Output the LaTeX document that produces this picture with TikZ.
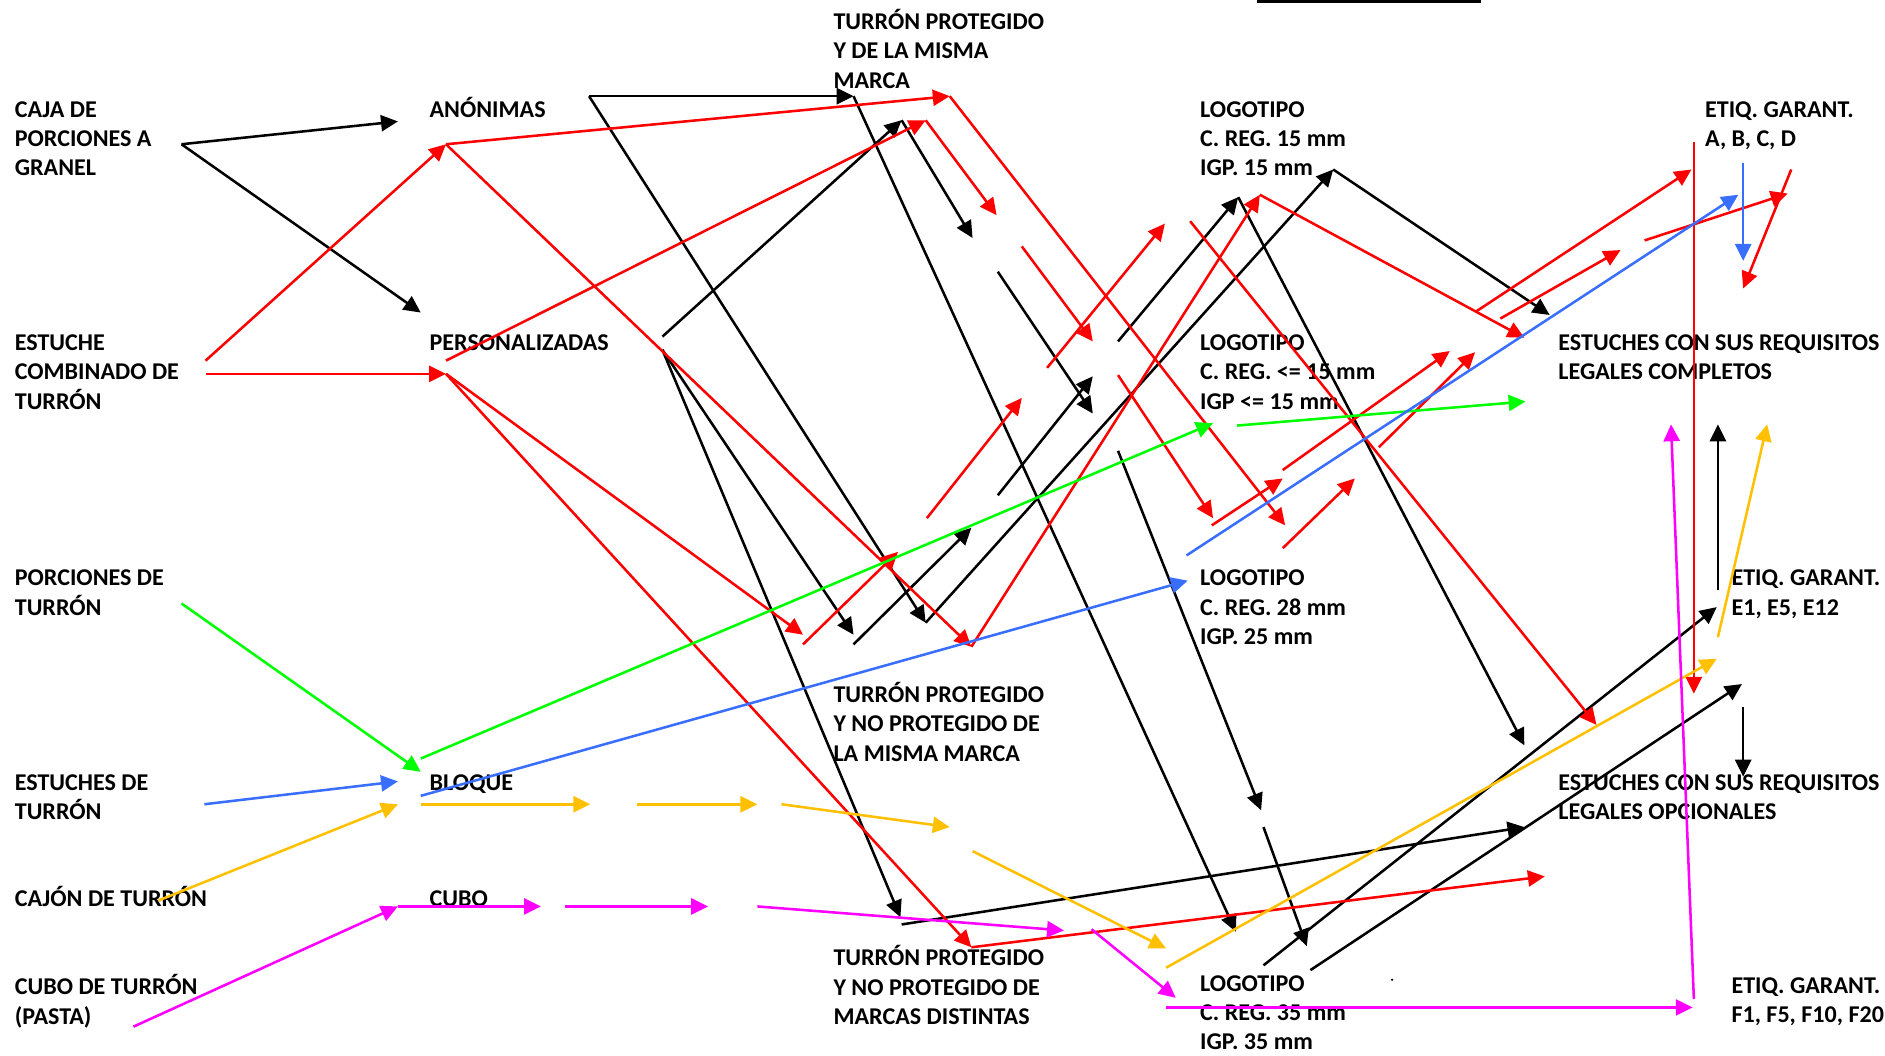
\documentclass[tikz,border=0pt]{standalone}
\usepackage{fontspec}
\setmainfont{Carlito}
\usetikzlibrary{arrows.meta}

\definecolor{rojo}{HTML}{FF0000}
\definecolor{verde}{HTML}{00FF00}
\definecolor{azul}{HTML}{3A6EFF}
\definecolor{amarillo}{HTML}{FFC000}
\definecolor{rosa}{HTML}{FF00FF}

\begin{document}
\begin{tikzpicture}[
    x=0.02cm, y=-0.02cm,
    % labels in bold sans
    lbl/.style={
        font=\fontsize{11.4pt}{13.9pt}\selectfont\bfseries,
        align=left,
        anchor=north west,
        inner sep=0pt
    },
    % every connector is a straight arrow
    flecha/.style={
        -{Triangle[length=8pt,width=7.6pt]},
        line width=1.2pt
    },
    fnegra/.style={flecha, black},
    froja/.style={flecha, rojo},
    fverde/.style={flecha, verde},
    fazul/.style={flecha, azul},
    famarilla/.style={flecha, amarillo},
    frosa/.style={flecha, rosa}
]
    \useasboundingbox (0,0) rectangle (1568,878);

    % Products
    \node[lbl] (caja) at (12,80) {\strut CAJA DE\\PORCIONES A\\GRANEL};
    \node[lbl] (estuche) at (12,274) {\strut ESTUCHE\\COMBINADO DE\\TURRÓN};
    \node[lbl] (porciones) at (12,470) {\strut PORCIONES DE\\TURRÓN};
    \node[lbl] (estuches) at (12,640) {\strut ESTUCHES DE\\TURRÓN};
    \node[lbl] (cajon) at (12,737) {\strut CAJÓN DE TURRÓN};
    \node[lbl] (cubot) at (12,810) {\strut CUBO DE TURRÓN\\(PASTA)};

    % Presentations
    \node[lbl] (anon) at (357,80) {\strut ANÓNIMAS};
    \node[lbl] (pers) at (357,274) {\strut PERSONALIZADAS};
    \node[lbl] (bloque) at (357,640) {\strut BLOQUE};
    \node[lbl] (cubo) at (357,737) {\strut CUBO};

    % Brands
    \node[lbl] (misma) at (693,7) {\strut TURRÓN PROTEGIDO\\Y DE LA MISMA\\MARCA};
    \node[lbl] (nomisma) at (693,567) {\strut TURRÓN PROTEGIDO\\Y NO PROTEGIDO DE\\LA MISMA MARCA};
    \node[lbl] (distintas) at (693,786) {\strut TURRÓN PROTEGIDO\\Y NO PROTEGIDO DE\\MARCAS DISTINTAS};

    % Logos
    \node[lbl] (logoA) at (998,80) {\strut LOGOTIPO\\C. REG. 15 mm\\IGP. 15 mm};
    \node[lbl] (logoB) at (998,274) {\strut LOGOTIPO\\C. REG. <= 15 mm\\IGP <= 15 mm};
    \node[lbl] (logoC) at (998,470) {\strut LOGOTIPO\\C. REG. 28 mm\\IGP. 25 mm};
    \node[lbl] (logoD) at (998,807) {\strut LOGOTIPO\\C. REG. 35 mm\\IGP. 35 mm};

    % Requirements and labels
    \node[lbl] (completos) at (1296,274) {\strut ESTUCHES CON SUS REQUISITOS\\LEGALES COMPLETOS};
    \node[lbl] (opcionales) at (1296,640) {\strut ESTUCHES CON SUS REQUISITOS\\LEGALES OPCIONALES};
    \node[lbl] (etiqA) at (1418,80) {\strut ETIQ. GARANT.\\A, B, C, D};
    \node[lbl] (etiqE) at (1440,470) {\strut ETIQ. GARANT.\\E1, E5, E12};
    \node[lbl] (etiqF) at (1440,809) {\strut ETIQ. GARANT.\\F1, F5, F10, F20};

    % Arrow ends
    \foreach \n/\p in {k1/{151,120}, k2/{331,101}, k3/{350,260}, k4/{490,80},
        k5/{710,80}, k6/{770,518}, k7/{1028,775}, k8/{551,280}, k9/{750,100},
        k10/{809,198}, k11/{551,291}, k12/{710,528}, k13/{749,763}, k14/{750,769},
        k15/{1268,688}, k16/{710,536}, k17/{808,439}, k18/{830,412}, k19/{909,313},
        k20/{930,284}, k21/{1030,164}, k22/{1268,620}, k23/{1109,141}, k24/{1289,262},
        k25/{830,226}, k26/{909,344}, k27/{930,375}, k28/{1049,674}, k29/{1051,688},
        k30/{1087,787}, k31/{1051,803}, k32/{1428,505}, k33/{1090,807}, k34/{1449,569},
        k35/{1429,491}, k36/{1429,353}, k37/{1450,588}, k38/{1450,646},
        t1/{1046,1}, t2/{1232,1}}
        \coordinate (\n) at (\p);
    \foreach \n/\p in {r1/{171,300}, r2/{371,120}, r3/{171,311}, r4/{371,311},
        r5/{790,80}, r6/{808,538}, r7/{668,528}, r8/{808,788}, r9/{371,300},
        r10/{770,100}, r11/{829,179}, r12/{1069,437}, r13/{850,205}, r14/{909,284},
        r15/{930,312}, r16/{1009,431}, r17/{668,536}, r18/{747,459}, r19/{771,431},
        r20/{850,331}, r21/{871,306}, r22/{969,186}, r23/{1048,162}, r24/{1268,281},
        r25/{990,184}, r26/{1328,603}, r27/{1008,437}, r28/{1067,398}, r29/{1067,391},
        r30/{1206,292}, r31/{1067,456}, r32/{1127,398}, r33/{1147,372}, r34/{1227,293},
        r35/{1228,259}, r36/{1407,141}, r37/{1248,265}, r38/{1348,208}, r39/{1368,200},
        r40/{1487,161}, r41/{1490,141}, r42/{1450,240}, r43/{1409,118}, r44/{1409,577},
        r45/{1285,729}}
        \coordinate (\n) at (\p);
    \foreach \n/\p in {g1/{151,502}, g2/{350,642}, g3/{350,631}, g4/{1009,352},
        g5/{1029,354}, g6/{1269,334},
        b1/{170,669}, b2/{331,650}, b3/{350,662}, b4/{988,483}, b5/{987,462},
        b6/{1446,162}, b7/{1450,136}, b8/{1450,217},
        y1/{132,749}, y2/{331,669}, y3/{350,669}, y4/{491,669}, y5/{530,669},
        y6/{630,669}, y7/{650,669}, y8/{790,688}, y9/{809,708}, y10/{970,789},
        y11/{970,805}, y12/{1428,548}, y13/{1429,530}, y14/{1470,353},
        m1/{111,854}, m2/{331,754}, m3/{450,754}, m4/{470,754}, m5/{589,754},
        m6/{630,754}, m7/{885,774}, m8/{908,773}, m9/{978,830}, m10/{970,838},
        m11/{1408,838}, m12/{1409,831}, m13/{1390,353}}
        \coordinate (\n) at (\p);

    % Black paths
    \foreach \a/\b in {k1/k2, k1/k3, k4/k5, k4/k6, k5/k7, k8/k9, k9/k10, k11/k12,
        k11/k13, k14/k15, k16/k17, k18/k19, k20/k21, k21/k22, k6/k23, k23/k24,
        k25/k26, k27/k28, k29/k30, k31/k32, k33/k34, k35/k36, k37/k38}
        \draw[fnegra] (\a) -- (\b);

    % Red paths
    \foreach \a/\b in {r1/r2, r3/r4, r2/r5, r2/r6, r4/r7, r4/r8, r9/r10, r10/r11,
        r5/r12, r13/r14, r15/r16, r17/r18, r19/r20, r21/r22, r6/r23, r23/r24,
        r25/r26, r27/r28, r29/r30, r31/r32, r33/r34, r35/r36, r37/r38, r39/r40,
        r41/r42, r43/r44, r8/r45}
        \draw[froja] (\a) -- (\b);

    % Green, blue, yellow and pink paths
    \foreach \a/\b in {g1/g2, g3/g4, g5/g6}
        \draw[fverde] (\a) -- (\b);
    \foreach \a/\b in {b1/b2, b3/b4, b5/b6, b7/b8}
        \draw[fazul] (\a) -- (\b);
    \foreach \a/\b in {y1/y2, y3/y4, y5/y6, y7/y8, y9/y10, y11/y12, y13/y14}
        \draw[famarilla] (\a) -- (\b);
    \foreach \a/\b in {m1/m2, m2/m3, m4/m5, m6/m7, m8/m9, m10/m11, m12/m13}
        \draw[frosa] (\a) -- (\b);

    % Odd marks
    \draw[line width=1.3pt] (t1) -- (t2);
    \fill (1158,815) circle (1);
\end{tikzpicture}
\end{document}
